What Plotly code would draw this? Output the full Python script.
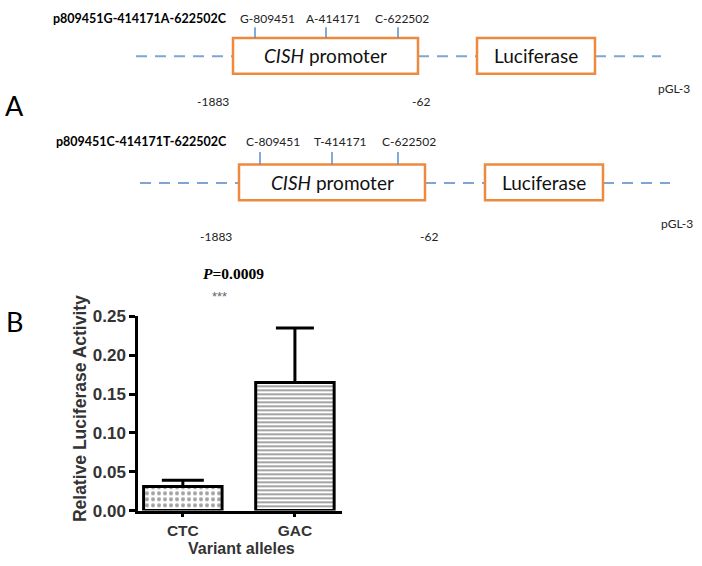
import plotly.graph_objects as go

# --- data ---
constructs = ["p809451G-414171A-622502C", "p809451C-414171T-622502C"]
snp_labels = [["G-809451", "A-414171", "C-622502"],
              ["C-809451", "T-414171", "C-622502"]]
region_ends = ["-1883", "-62"]
vector_name = "pGL-3"
promoter_name = "<i>CISH</i> promoter"
reporter_name = "Luciferase"

alleles = ["CTC", "GAC"]
activity = [0.031, 0.165]
activity_err = [0.008, 0.070]
y_ticks = [0.00, 0.05, 0.10, 0.15, 0.20, 0.25]
p_text = "<b><i>P</i>=0.0009</b>"
sig_text = "***"

W, H = 702, 566


def px(x):
    return x / W


def py(y):
    return 1 - y / H


# schematic geometry in pixels (one dict per construct)
diagrams = [
    dict(y_lab=10, tick=(19, 30), box=(30, 67), dash_y=49, ends_y=96, vec_y=82,
         label_x=51, snp_x=[267, 333, 402], tick_x=[255, 326, 398],
         dash=(136, 661), prom=(233, 418), luc=(477, 595),
         ends_x=[213, 421], vec_x=674),
    dict(y_lab=137, tick=(148, 161), box=(161, 198), dash_y=180, ends_y=235, vec_y=222,
         label_x=54, snp_x=[273, 340, 409], tick_x=[260, 332, 398],
         dash=(140, 670), prom=(239, 425), luc=(485, 603),
         ends_x=[216, 429], vec_x=677),
]

shapes = []
annotations = []
dash_col = "#7fa6d3"
box_col = "#ed8a3f"
tick_col = "#5b8cc8"
calibri = "Lato"


def note(text, x, y, size, color="#222", family=calibri, xanchor="center", **kw):
    annotations.append(dict(text=text, x=px(x), y=py(y), xref="paper", yref="paper",
                            xanchor=xanchor, yanchor="middle", showarrow=False,
                            font=dict(family=family, size=size, color=color), **kw))


for d, name, snps in zip(diagrams, constructs, snp_labels):
    y0, y1 = d["box"]
    dy = d["dash_y"]
    # dashed vector backbone
    for xa, xb in [(d["dash"][0], d["prom"][0]), (d["prom"][1], d["luc"][0]),
                   (d["luc"][1], d["dash"][1])]:
        shapes.append(dict(type="line", xref="paper", yref="paper",
                           x0=px(xa), x1=px(xb), y0=py(dy), y1=py(dy),
                           line=dict(color=dash_col, width=2, dash="11px,8px")))
    # boxes
    for xa, xb in [d["prom"], d["luc"]]:
        shapes.append(dict(type="rect", xref="paper", yref="paper",
                           x0=px(xa), x1=px(xb), y0=py(y1), y1=py(y0),
                           line=dict(color=box_col, width=2.5),
                           fillcolor="white"))
    # SNP ticks
    for tx in d["tick_x"]:
        shapes.append(dict(type="line", xref="paper", yref="paper",
                           x0=px(tx), x1=px(tx), y0=py(d["tick"][1]), y1=py(d["tick"][0]),
                           line=dict(color=tick_col, width=1.5)))
    note("<b>%s</b>" % name, d["label_x"], d["y_lab"], 12.5, color="black", xanchor="left")
    for sx, s in zip(d["snp_x"], snps):
        note(s, sx, d["y_lab"], 12)
    note(promoter_name, sum(d["prom"]) / 2, (y0 + y1) / 2, 19, color="#111")
    note(reporter_name, sum(d["luc"]) / 2, (y0 + y1) / 2, 19, color="#111")
    for ex, e in zip(d["ends_x"], region_ends):
        note(e, ex, d["ends_y"], 12)
    note(vector_name, d["vec_x"], d["vec_y"], 12)

# panel letters
note("A", 14, 100, 27, color="black")
note("B", 14, 323, 27, color="black")

# --- bar chart ---
fig = go.Figure()
fig.add_trace(go.Bar(
    x=[0], y=[activity[0]], width=0.7,
    marker=dict(color="white", line=dict(color="black", width=3),
                pattern=dict(shape=".", size=6, solidity=0.35, fgcolor="#444", bgcolor="white")),
    error_y=dict(type="data", array=[activity_err[0]], arrayminus=[0], symmetric=False,
                 color="black", thickness=3, width=21),
    showlegend=False, hoverinfo="skip"))
fig.add_trace(go.Bar(
    x=[1], y=[activity[1]], width=0.7,
    marker=dict(color="white", line=dict(color="black", width=3),
                pattern=dict(shape="-", size=4, solidity=0.45, fgcolor="#333", bgcolor="white")),
    error_y=dict(type="data", array=[activity_err[1]], arrayminus=[0], symmetric=False,
                 color="black", thickness=3, width=19),
    showlegend=False, hoverinfo="skip"))

note(p_text, 233, 274, 15.5, color="black", family="Liberation Serif")
note(sig_text, 220, 298, 13, color="#666", family="Liberation Sans")
note("<b>Relative Luciferase Activity</b>", 80, 414, 17.5, color="#333",
     family="Liberation Sans", textangle=-90)
note("<b>Variant alleles</b>", 241, 558, 16, color="#333", family="Liberation Sans")

fig.update_layout(
    width=W, height=H,
    margin=dict(l=0, r=0, t=0, b=0),
    paper_bgcolor="white", plot_bgcolor="white",
    barmode="overlay",
    shapes=shapes, annotations=annotations,
    xaxis=dict(domain=[px(138), px(342)], range=[-0.40, 1.42],
               tickvals=[0, 1], ticktext=["<b>%s</b>" % a for a in alleles],
               showline=True, linecolor="black", linewidth=2.5,
               ticks="outside", ticklen=4, tickwidth=2.5, tickcolor="black",
               tickfont=dict(family="Liberation Sans", size=15.5, color="#333"),
               showgrid=False, zeroline=False, fixedrange=True),
    yaxis=dict(domain=[py(519), py(318)], range=[0, 0.25],
               tickvals=y_ticks, ticktext=["<b>%.2f</b>" % v for v in y_ticks],
               showline=True, linecolor="black", linewidth=2.5,
               ticks="outside", ticklen=6, tickwidth=2.5, tickcolor="black",
               tickfont=dict(family="Liberation Sans", size=17, color="#333"),
               showgrid=False, zeroline=False, fixedrange=True),
)

# the default page keeps an 8px body margin; drop it so the figure sits at (0, 0)
fig.write_html("out.html", config={"displayModeBar": False},
               post_script="document.body.style.margin='0';document.body.style.overflow='hidden';")
